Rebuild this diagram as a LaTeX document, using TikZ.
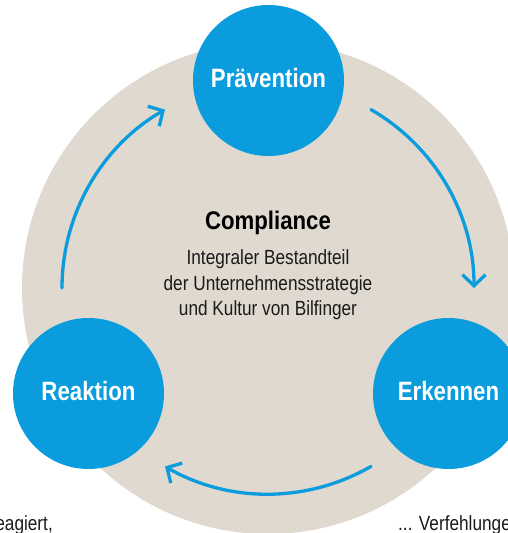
\documentclass[tikz,border=0pt]{standalone}
\usepackage{fontspec}
\setmainfont{Liberation Sans}
\newfontfamily\bubblefont{Liberation Sans}[FakeStretch=0.84]
\newfontfamily\titlefont{Liberation Sans}[FakeStretch=0.87]
\newfontfamily\bodyfont{Liberation Sans}[FakeStretch=0.84]
\usetikzlibrary{arrows.meta}
\definecolor{cblue}{HTML}{0A9CDD}
\definecolor{cbeige}{HTML}{E0D9D0}
\definecolor{ctext}{HTML}{1A1A1A}
\begin{document}
\begin{tikzpicture}[x=1pt,y=-1pt,
  phase/.style={circle, fill=cblue, minimum size=151pt, inner sep=0pt, text=white,
    font=\bubblefont\bfseries\fontsize{26.5}{30}\selectfont},
  plabel/.style={anchor=base, inner sep=0pt, text=white,
    font=\bubblefont\bfseries\fontsize{26.5}{30}\selectfont},
  cyc/.style={draw=cblue, line width=3.3pt, line cap=round,
    -{Straight Barb[length=11pt,width=23pt,line join=miter]}},
  body/.style={anchor=base, inner sep=0pt, text=ctext,
    font=\bodyfont\fontsize{20.5}{25}\selectfont}]
\useasboundingbox (0,0) rectangle (508,533);
\clip (0,0) rectangle (508,533);
\coordinate (c) at (268,288);
\fill[cbeige] (c) circle[radius=246];

% phase circles
\node[phase] (prae) at (268.5,80.5) {};
\node[phase] (reak) at (88.5,393.5) {};
\node[phase] (erk) at (448.5,393.5) {};
\node[plabel] (praeL) at ([yshift=-6.5pt]prae.center) {Prävention};
\node[plabel] (reakL) at ([yshift=-6.5pt]reak.center) {Reaktion};
\node[plabel] (erkL) at ([yshift=-6.5pt]erk.center) {Erkennen};

% cycle arrows
\draw[cyc] ([shift={(180:206)}]c) arc[start angle=180, end angle=240, radius=206];
\draw[cyc] ([shift={(300:206)}]c) arc[start angle=300, end angle=360, radius=206];
\draw[cyc] ([shift={(60:206)}]c) arc[start angle=60, end angle=120, radius=206];

% centre text
\node[anchor=base, inner sep=0pt, text=black,
  font=\titlefont\bfseries\fontsize{25.5}{30}\selectfont] (title) at (268,229) {Compliance};
\node[body] (s1) at (268,264) {Integraler Bestandteil};
\node[body] (s2) at (268,290) {der Unternehmensstrategie};
\node[body] (s3) at (268,315) {und Kultur von Bilfinger};

% cut-off texts at the bottom
\node[body, anchor=base east] (left) at (53,530) {eagiert,};
\node[body, anchor=base west] (right) at (398,530) {... Verfehlunge};
\end{tikzpicture}
\end{document}
